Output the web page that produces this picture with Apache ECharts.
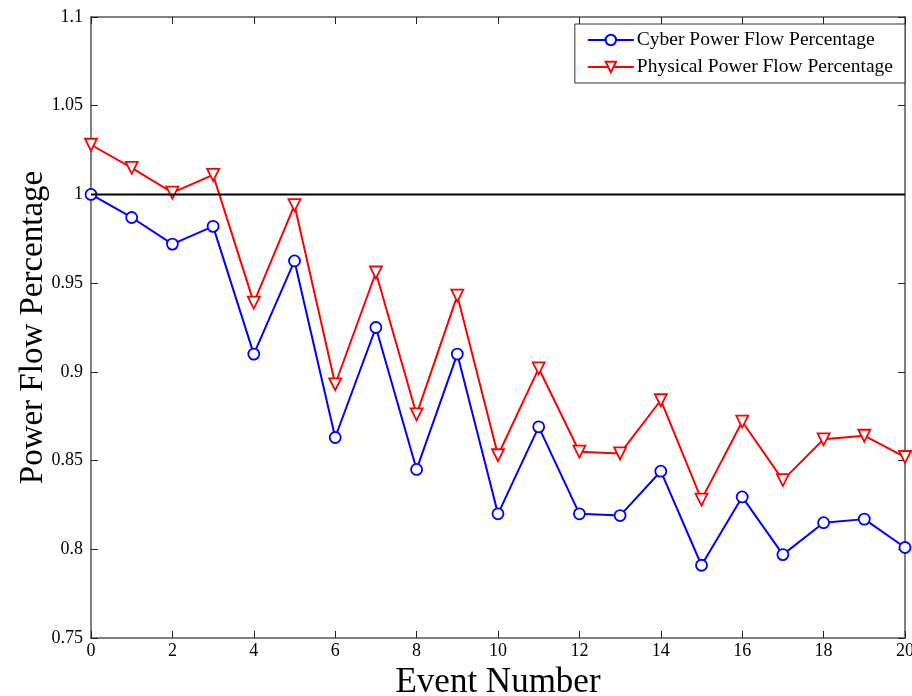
<!DOCTYPE html>
<html><head><meta charset="utf-8">
<script src="https://cdn.jsdelivr.net/npm/echarts@6/dist/echarts.min.js"></script>
<style>html,body{margin:0;padding:0;background:#fff}#c{width:912px;height:696px}</style>
</head><body><div id="c"></div>
<script>
const events = [0,1,2,3,4,5,6,7,8,9,10,11,12,13,14,15,16,17,18,19,20];
const cyber = [1.000,0.987,0.972,0.982,0.910,0.9625,0.863,0.925,0.845,0.910,0.820,0.869,0.820,0.819,0.844,0.791,0.8295,0.797,0.815,0.817,0.801];
const physical = [1.028,1.015,1.001,1.011,0.939,0.994,0.893,0.956,0.876,0.943,0.853,0.902,0.855,0.854,0.884,0.828,0.872,0.839,0.862,0.864,0.852];
const refLevel = 1.0;
const seriesNames = ['Cyber Power Flow Percentage','Physical Power Flow Percentage'];

const font = 'Liberation Serif, Times New Roman, serif';
const axisCol = '#555';
const chart = echarts.init(document.getElementById('c'));
const pair = (ys) => events.map((x,i)=>[x, ys[i]]);
chart.setOption({
  animation:false,
  grid:{left:91,right:7,top:17,bottom:58,containLabel:false,outerBoundsMode:'none'},
  legend:{
    orient:'vertical', right:7, top:24, itemWidth:46, itemHeight:13, itemGap:7,
    padding:[6,12,6,12], borderColor:'#333', borderWidth:1, backgroundColor:'#fff',
    textStyle:{fontFamily:font, fontSize:19.5, color:'#000', padding:[0,0,0,-2]},
    data:seriesNames
  },
  xAxis:[{
    type:'value', min:0, max:20, interval:2,
    name:'Event Number', nameLocation:'middle', nameGap:27, nameMoveOverlap:false,
    nameTextStyle:{fontFamily:font, fontSize:35, color:'#000'},
    axisLine:{show:true,onZero:false,lineStyle:{color:axisCol,width:1.5}},
    axisTick:{show:true,inside:true,length:7,lineStyle:{color:'#222'}},
    axisLabel:{fontFamily:font,fontSize:18,color:'#000',margin:4},
    splitLine:{show:false}
  },{
    type:'value', position:'top', min:0, max:20, interval:2,
    axisLine:{show:true,onZero:false,lineStyle:{color:axisCol,width:1.5}},
    axisTick:{show:true,inside:true,length:7,lineStyle:{color:'#222'}},
    axisLabel:{show:false}, splitLine:{show:false}
  }],
  yAxis:[{
    type:'value', min:0.75, max:1.1, interval:0.05,
    name:'Power Flow Percentage', nameLocation:'middle', nameGap:41, nameMoveOverlap:false,
    nameTextStyle:{fontFamily:font, fontSize:33, color:'#000'},
    axisLine:{show:true,onZero:false,lineStyle:{color:axisCol,width:1.5}},
    axisTick:{show:true,inside:true,length:7,lineStyle:{color:'#222'}},
    axisLabel:{fontFamily:font,fontSize:18,color:'#000',margin:8},
    splitLine:{show:false}
  },{
    type:'value', position:'right', min:0.75, max:1.1, interval:0.05,
    axisLine:{show:true,onZero:false,lineStyle:{color:axisCol,width:1.5}},
    axisTick:{show:true,inside:true,length:7,lineStyle:{color:'#222'}},
    axisLabel:{show:false}, splitLine:{show:false}
  }],
  series:[
    {name:seriesNames[0], type:'line', data:pair(cyber), symbol:'circle', symbolSize:11,
     lineStyle:{color:'#0000ff',width:2}, itemStyle:{color:'#fff',borderColor:'#0000ff',borderWidth:1.8}, color:'#0000ff', z:3},
    {name:seriesNames[1], type:'line', data:pair(physical), symbol:'triangle', symbolRotate:180, symbolSize:12,
     lineStyle:{color:'#ff0000',width:2}, itemStyle:{color:'#fff',borderColor:'#ff0000',borderWidth:1.8}, color:'#ff0000', z:3},
    {name:'ref', type:'line', data:[[0,refLevel],[20,refLevel]], symbol:'none',
     lineStyle:{color:'#000',width:2}, z:4, silent:true}
  ]
});
</script></body></html>
